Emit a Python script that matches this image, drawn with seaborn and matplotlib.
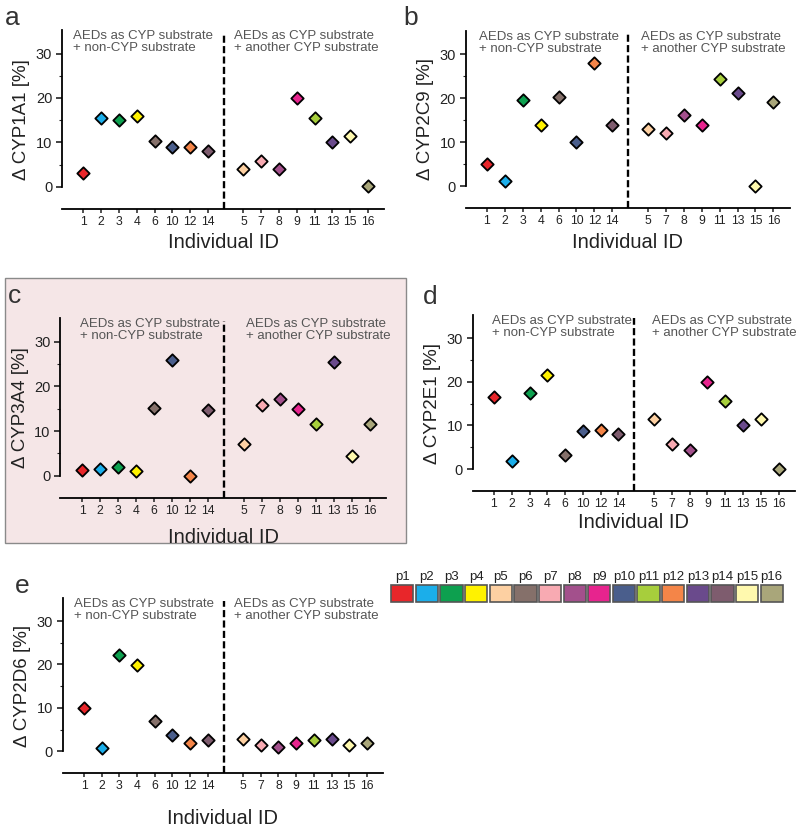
import numpy as np
import pandas as pd
import seaborn as sns
import matplotlib
matplotlib.use("Agg")
import matplotlib.pyplot as plt
from matplotlib.patches import Rectangle

sns.set_theme(style="white")
plt.rcParams['font.family'] = ['Liberation Sans', 'DejaVu Sans']

# individual IDs, grouped as on the x axis
left_ids = ['1', '2', '3', '4', '6', '10', '12', '14']
right_ids = ['5', '7', '8', '9', '11', '13', '15', '16']

# delta values [%] in the order left_ids + right_ids
cyp1a1 = [3.0, 15.6, 15.0, 16.0, 10.2, 8.9, 9.0, 8.1, 3.9, 5.8, 4.1, 20.1, 15.5, 10.1, 11.5, 0.2]
cyp2c9 = [5.0, 1.2, 19.7, 14.0, 20.2, 10.0, 28.0, 14.0, 13.0, 12.1, 16.2, 14.0, 24.4, 21.1, 0.0, 19.1]
cyp3a4 = [1.3, 1.4, 2.0, 1.0, 15.1, 25.8, 0.0, 14.7, 7.0, 15.8, 17.2, 15.0, 11.5, 25.4, 4.5, 11.5]
cyp2e1 = [16.5, 1.9, 17.4, 21.5, 3.2, 8.8, 9.0, 8.0, 11.6, 5.8, 4.5, 20.0, 15.5, 10.1, 11.6, 0.0]
cyp2d6 = [9.9, 0.7, 22.2, 19.9, 7.0, 3.7, 2.0, 2.7, 2.8, 1.5, 1.0, 1.9, 2.5, 2.9, 1.5, 1.8]

# patient colours p1..p16
patient_labels = ['p%d' % i for i in range(1, 17)]
patient_colors = ['#E8262A', '#1BAEEA', '#0DA04F', '#FFF200', '#FDD0A2', '#85706A',
                  '#F8AAB2', '#A3508C', '#E7248E', '#4A5E8C', '#A7CE3C', '#F48548',
                  '#6A4A8C', '#7E5C6E', '#FFF9AE', '#A9A67A']
pal = {str(i + 1): c for i, c in enumerate(patient_colors)}

W, H = 800, 826
fig = plt.figure(figsize=(W / 100, H / 100), dpi=100)
fig.patch.set_facecolor('white')

# pink box behind panel c
fig.patches.append(Rectangle((5 / W, 1 - 543 / H), 401 / W, 265 / H, transform=fig.transFigure,
                             facecolor='#F5E6E7', edgecolor='#8a8a8a', lw=1.0, zorder=-1))

# name, values, letter, (left px, width px, top px, axis px), letter pos, text x offsets, label pad
panels = [
    ('Δ CYP1A1 [%]', cyp1a1, 'a', (62, 322, 30, 209), (5, 25), (-0.6, 8.45), 4),
    ('Δ CYP2C9 [%]', cyp2c9, 'b', (465.5, 324, 31, 208), (403, 25), (-0.45, 8.6), 4),
    ('Δ CYP3A4 [%]', cyp3a4, 'c', (60.4, 326, 318, 498), (8, 303), (-0.1, 9.1), 8),
    ('Δ CYP2E1 [%]', cyp2e1, 'd', (472.6, 322, 315, 491), (423, 304), (-0.1, 8.9), 2),
    ('Δ CYP2D6 [%]', cyp2d6, 'e', (62.8, 320, 598, 773), (15, 593), (-0.55, 8.5), 12),
]

order = left_ids + [''] + right_ids
tick_pos = [i for i, k in enumerate(order) if k != '']

for ylab, vals, letter, rect, lpos, txs, lpad in panels:
    l, w, t, b = rect
    ax = fig.add_axes([l / W, 1 - b / H, w / W, (b - t) / H])
    ax.set_facecolor('none')
    df = pd.DataFrame({'ID': left_ids + right_ids, 'value': vals})
    sns.stripplot(data=df, x='ID', y='value', hue='ID', order=order, palette=pal,
                  marker='D', size=6.3, jitter=False, edgecolor='black', linewidth=1.3,
                  legend=False, ax=ax, zorder=3)
    ax.set_xlim(-1.2, 16.9)
    ax.set_ylim(-5, 35.3)
    ax.axvline(7.9, ymin=0, ymax=0.985, color='black', lw=1.7, ls=(0, (3, 1.4)), zorder=2)

    ax.set_xticks(tick_pos)
    ax.set_xticklabels(left_ids + right_ids)
    ax.set_yticks([0, 10, 20, 30])
    ax.set_yticks([5, 15, 25], minor=True)
    for s in ['top', 'right']:
        ax.spines[s].set_visible(False)
    ax.spines['left'].set_bounds(0, 35.3)
    ax.spines['left'].set_linewidth(1.3)
    ax.spines['bottom'].set_linewidth(1.3)
    ax.spines['left'].set_color('black')
    ax.spines['bottom'].set_color('black')
    ax.tick_params(axis='x', bottom=True, direction='out', length=3, width=1.1, pad=2,
                   labelsize=8.8, colors='#222')
    ax.tick_params(axis='y', which='major', left=True, direction='out', length=4, width=1.2,
                   pad=3, labelsize=10.5, colors='#222')
    ax.tick_params(axis='y', which='minor', left=True, direction='out', length=2, width=0.8)

    ax.set_xlabel('Individual ID', fontsize=14.5, color='#222', labelpad=lpad)
    ax.set_ylabel(ylab, fontsize=13.5, color='#222', labelpad=4)

    ax.text(txs[0], 35.3, 'AEDs as CYP substrate\n+ non-CYP substrate', ha='left', va='top',
            fontsize=9.5, color='#555', linespacing=1.0)
    ax.text(txs[1], 35.3, 'AEDs as CYP substrate\n+ another CYP substrate', ha='left', va='top',
            fontsize=9.5, color='#555', linespacing=1.0)

    fig.text(lpos[0] / W, 1 - lpos[1] / H, letter, fontsize=19, color='#333', va='baseline')

    if letter == 'c':
        clip = Rectangle((5 / W, 1 - 543 / H), 401 / W, 265 / H, transform=fig.transFigure)
        ax.xaxis.label.set_clip_path(clip)
        ax.xaxis.label.set_clip_on(True)

# colour key
lax = fig.add_axes([390 / W, 1 - 603 / H, 394 / W, 19 / H])
lax.set_facecolor('none')
sns.barplot(x=patient_labels, y=[1] * 16, hue=patient_labels, palette=patient_colors,
            order=patient_labels, hue_order=patient_labels, width=0.9, edgecolor='#555',
            linewidth=1.2, saturation=1, legend=False, ax=lax)
lax.set_ylim(-0.06, 1.06)
lax.set_xlim(-0.5, 15.5)
lax.xaxis.tick_top()
lax.tick_params(axis='x', top=False, bottom=False, length=0, pad=1, labelsize=9.5, colors='#222')
lax.set_yticks([])
lax.set_xlabel('')
lax.set_ylabel('')
for s in lax.spines.values():
    s.set_visible(False)

fig.savefig('out.png', dpi=100)
